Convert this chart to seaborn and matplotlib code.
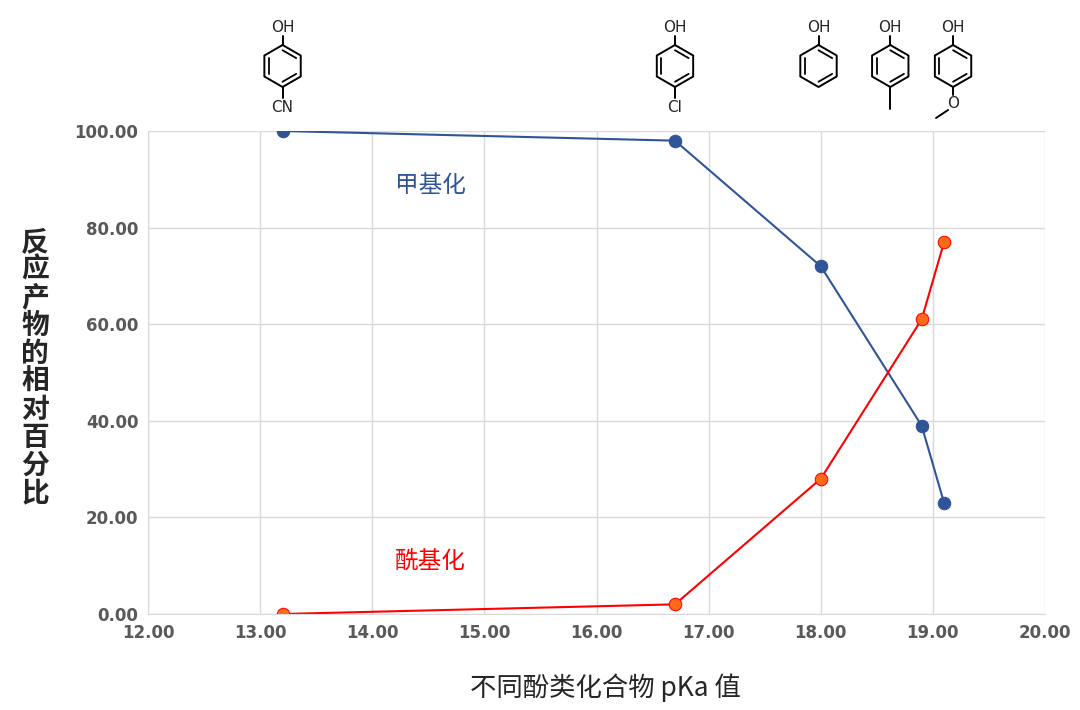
import numpy as np
import pandas as pd
import matplotlib
matplotlib.use("Agg")
import matplotlib.pyplot as plt
import seaborn as sns

pka = [13.2, 16.7, 18.0, 18.9, 19.1]
methyl = [100, 98, 72, 39, 23]
acyl = [0, 2, 28, 61, 77]
subst = ["CN", "Cl", "", "Me", "OMe"]
# where each structure drawing sits along the x axis (pKa units)
struct_x = [13.2, 16.7, 17.98, 18.62, 19.18]

sns.set_style("whitegrid")
plt.rcParams['font.family'] = ['Noto Sans CJK SC', 'DejaVu Sans']

fig = plt.figure(figsize=(10.8, 7.1), dpi=100)
ax = fig.add_axes([148/1080, 1-614/710, (1045-148)/1080, (614-131)/710])

df = pd.DataFrame({"pka": pka, "methyl": methyl, "acyl": acyl})
sns.lineplot(data=df, x="pka", y="methyl", ax=ax, color="#2F5597", marker="o",
             markersize=9, markeredgecolor="#2F5597", lw=1.5)
sns.lineplot(data=df, x="pka", y="acyl", ax=ax, color="#FF0000", marker="o",
             markersize=9, markerfacecolor="#FF6A1A", markeredgecolor="#FF0000", lw=1.5)

ax.set_xlim(12, 20)
ax.set_ylim(0, 100)
ax.set_xticks(np.arange(12, 20.1, 1))
ax.set_yticks(np.arange(0, 100.1, 20))
ax.set_xticklabels([f"{v:.2f}" for v in np.arange(12, 20.1, 1)])
ax.set_yticklabels([f"{v:.2f}" for v in np.arange(0, 100.1, 20)])
for t in ax.get_xticklabels() + ax.get_yticklabels():
    t.set_fontweight("bold"); t.set_color("#595959"); t.set_fontsize(12)
    t.set_family(['DejaVu Sans'])
ax.grid(color="#D9D9D9", lw=1)
for s in ax.spines.values():
    s.set_visible(False)
ax.spines['bottom'].set_visible(True); ax.spines['bottom'].set_color("#D9D9D9")
ax.spines['left'].set_visible(True); ax.spines['left'].set_color("#D9D9D9")
ax.set_xlabel("")
ax.set_ylabel("")

ax.text(14.52, 88.8, "甲基化", color="#2F5597", fontsize=17, ha="center", va="center")
ax.text(14.52, 10.8, "酰基化", color="#FF0000", fontsize=17, ha="center", va="center")

fig.text(605/1080, 1-688/710, "不同酚类化合物 pKa 值", fontsize=19, ha="center", va="center")
fig.text(35/1080, 1-368/710, "\n".join("反应产物的相对百分比"), fontsize=20,
         ha="center", va="center", linespacing=1.0, fontweight="bold")

# structures on top, drawn in pixel coordinates
ov = fig.add_axes([0, 0, 1, 1], facecolor="none")
ov.set_xlim(0, 1080); ov.set_ylim(710, 0); ov.axis("off")
def xpix(v):
    return 148 + (v - 12) * (1045 - 148) / 8
r = 21
for v, s in zip(struct_x, subst):
    cx, cy = xpix(v), 66
    ang = np.deg2rad(90 + 60 * np.arange(7))
    ov.plot(cx + r*np.cos(ang), cy - r*np.sin(ang), color="black", lw=1.4)
    for k in (1, 3, 5):
        a1, a2 = ang[k], ang[k+1]
        ri = r * 0.75
        ov.plot([cx + ri*np.cos(a1), cx + ri*np.cos(a2)],
                [cy - ri*np.sin(a1), cy - ri*np.sin(a2)], color="black", lw=1.3)
    ov.plot([cx, cx], [cy - r, cy - r - 9], color="black", lw=1.4)
    ov.text(cx, cy - r - 18, "OH", fontsize=11, ha="center", va="center", family=['DejaVu Sans'])
    if s in ("CN", "Cl"):
        ov.plot([cx, cx], [cy + r, cy + r + 11], color="black", lw=1.4)
        ov.text(cx, cy + r + 20, s, fontsize=11, ha="center", va="center", family=['DejaVu Sans'])
    elif s == "Me":
        ov.plot([cx, cx], [cy + r, cy + r + 22], color="black", lw=1.4)
    elif s == "OMe":
        ov.plot([cx, cx], [cy + r, cy + r + 8], color="black", lw=1.4)
        ov.text(cx, cy + r + 16, "O", fontsize=11, ha="center", va="center", family=['DejaVu Sans'])
        ov.plot([cx - 5, cx - 17], [cy + r + 23, cy + r + 31], color="black", lw=1.4)

fig.savefig("out.png", dpi=100)
